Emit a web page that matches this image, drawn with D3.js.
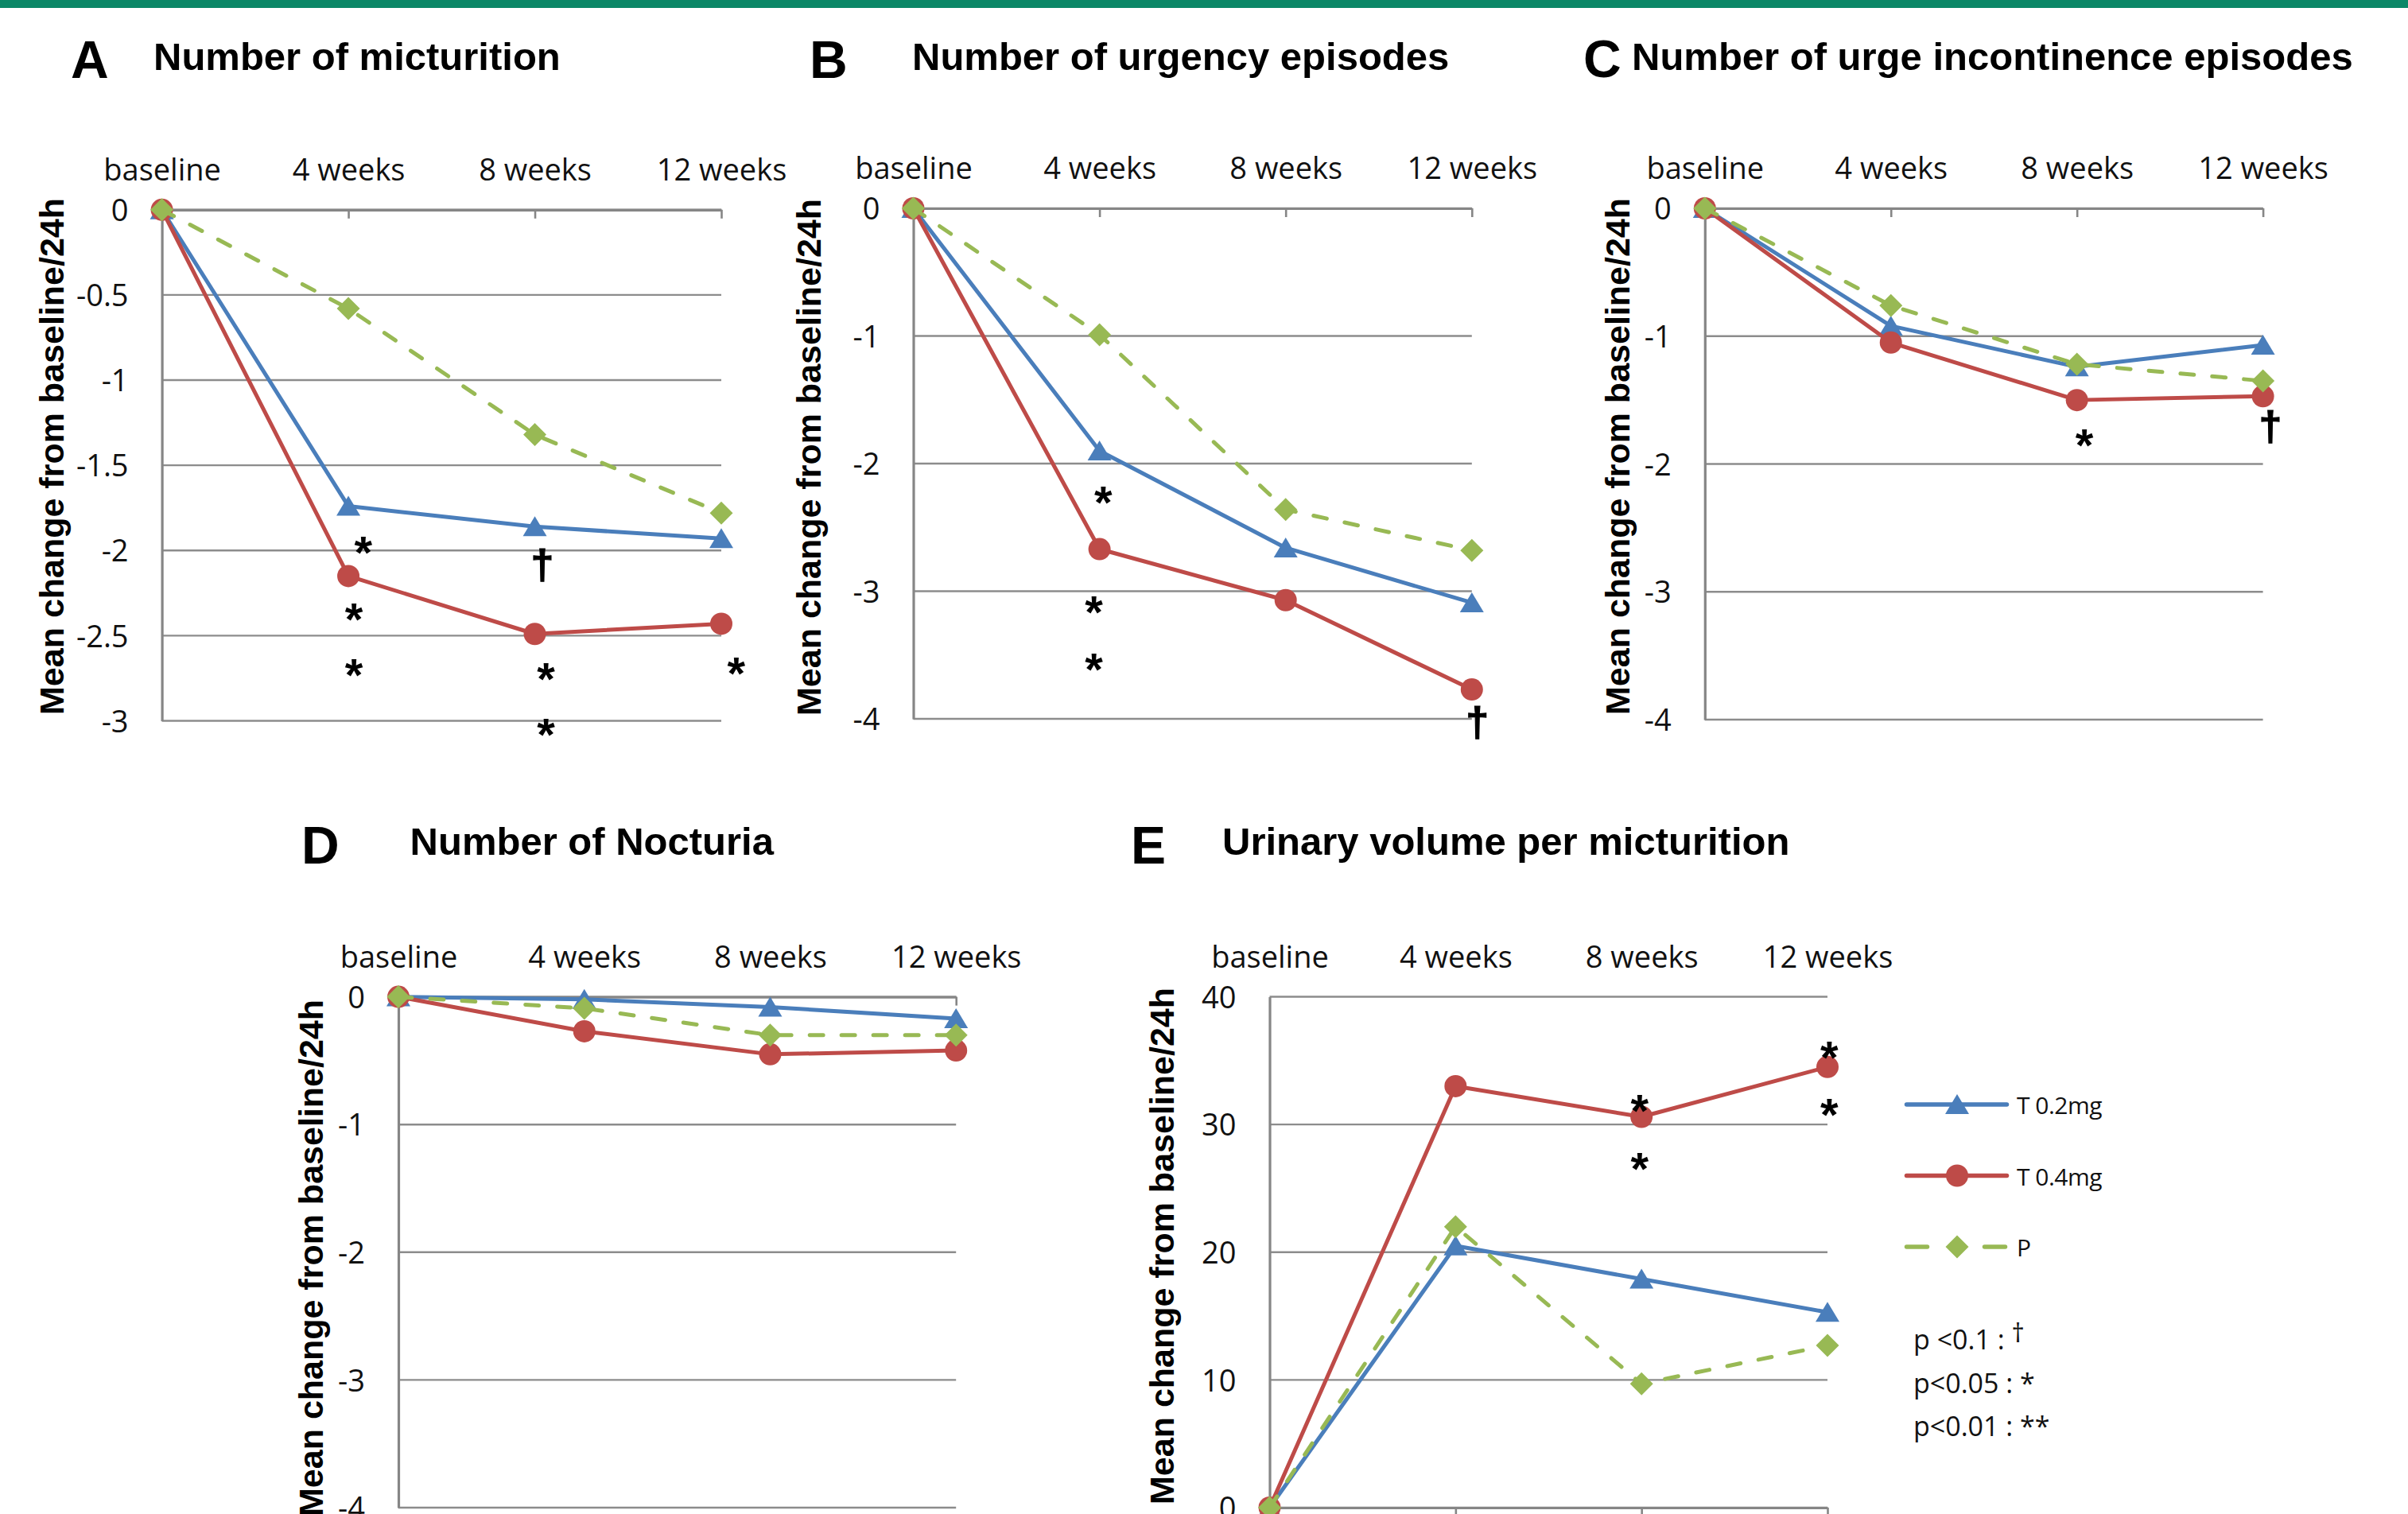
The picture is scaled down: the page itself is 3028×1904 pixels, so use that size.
<!DOCTYPE html>
<html><head><meta charset="utf-8">
<script src="https://cdn.jsdelivr.net/npm/d3@7"></script>
<style>
html,body{margin:0;padding:0;background:#fff;}
svg{display:block;}
</style></head><body>
<svg id="chart" width="3028" height="1904"></svg>
<script>
// ---------------- DATA ----------------
const categories = ["baseline", "4 weeks", "8 weeks", "12 weeks"];
const seriesNames = ["T 0.2mg", "T 0.4mg", "P"];
const panelLetters = ["A", "B", "C", "D", "E"];
const panelTitles = ["Number of micturition", "Number of urgency episodes",
  "Number of urge incontinence episodes", "Number of Nocturia", "Urinary volume per micturition"];
const yAxisTitle = "Mean change from baseline/24h";

// A: micturition
const micturitionT02 = [0, -1.74, -1.86, -1.93];
const micturitionT04 = [0, -2.15, -2.49, -2.43];
const micturitionP   = [0, -0.58, -1.32, -1.78];
// B: urgency episodes
const urgencyT02 = [0, -1.90, -2.66, -3.09];
const urgencyT04 = [0, -2.67, -3.07, -3.77];
const urgencyP   = [0, -0.99, -2.36, -2.68];
// C: urge incontinence episodes
const urgeIncT02 = [0, -0.92, -1.24, -1.07];
const urgeIncT04 = [0, -1.05, -1.50, -1.47];
const urgeIncP   = [0, -0.76, -1.22, -1.35];
// D: nocturia
const nocturiaT02 = [0, -0.02, -0.08, -0.17];
const nocturiaT04 = [0, -0.27, -0.45, -0.42];
const nocturiaP   = [0, -0.09, -0.30, -0.30];
// E: urinary volume per micturition
const volumeT02 = [0, 20.5, 17.9, 15.3];
const volumeT04 = [0, 33.0, 30.6, 34.5];
const volumeP   = [0, 22.0, 9.7, 12.7];

// y tick values
const yTicksA = [0, -0.5, -1, -1.5, -2, -2.5, -3];
const yTicksB = [0, -1, -2, -3, -4];
const yTicksC = [0, -1, -2, -3, -4];
const yTicksD = [0, -1, -2, -3, -4];
const yTicksE = [40, 30, 20, 10, 0];

// significance marks: [category position (index), value, symbol]
const marksA = [[1.08, -1.95, "*"], [1.03, -2.34, "*"], [1.03, -2.67, "*"], [2.04, -2.10, "\u2020"],
                [2.06, -2.69, "*"], [2.06, -3.02, "*"], [3.08, -2.66, "*"]];
const marksB = [[1.02, -2.22, "*"], [0.97, -3.08, "*"], [0.97, -3.53, "*"], [3.03, -4.05, "\u2020"]];
const marksC = [[2.04, -1.77, "*"], [3.04, -1.73, "\u2020"]];
const marksD = [];
const marksE = [[1.99, 31.9, "*"], [1.99, 27.4, "*"], [3.01, 36.1, "*"], [3.01, 31.6, "*"]];

const pLegendText = ["p <0.1 : ", "p<0.05 : ", "p<0.01 : "];
const pLegendSymbols = ["\u2020", "*", "**"];

// ---------------- STYLE / LAYOUT ----------------
const colors = ["#4A7EBB", "#BE4B48", "#98B954"];
const dashes = [null, null, "17,23"];
const markerTypes = ["triangle", "circle", "diamond"];

const layout = [
  {l: 203.6, r: 907, t: 263.8, b: 906.5, letterX: 89, letterBase: 98, titleX: 193, titleBase: 88, ytX: 64.4, ytY: 574},
  {l: 1148.5, r: 1850.8, t: 262, b: 904, letterX: 1018, letterBase: 98, titleX: 1147, titleBase: 88, ytX: 1017, ytY: 575},
  {l: 2143.8, r: 2845.6, t: 262, b: 905, letterX: 1991, letterBase: 97, titleX: 2052, titleBase: 88, ytX: 2033.5, ytY: 574},
  {l: 501, r: 1202.2, t: 1253.6, b: 1896, letterX: 379, letterBase: 1086, titleX: 515.6, titleBase: 1075, ytX: 391, ytY: 1582},
  {l: 1596.5, r: 2298, t: 1253.5, b: 1896, letterX: 1422, letterBase: 1086, titleX: 1537, titleBase: 1075, ytX: 1460.6, ytY: 1567}
];

const panelSeries = [
  [micturitionT02, micturitionT04, micturitionP],
  [urgencyT02, urgencyT04, urgencyP],
  [urgeIncT02, urgeIncT04, urgeIncP],
  [nocturiaT02, nocturiaT04, nocturiaP],
  [volumeT02, volumeT04, volumeP]
];
const panelTicks = [yTicksA, yTicksB, yTicksC, yTicksD, yTicksE];
const panelMarks = [marksA, marksB, marksC, marksD, marksE];

const tickFont = "'Open Sans', 'Liberation Sans', sans-serif";
const boldFont = "'Liberation Sans', Arial, sans-serif";

const svg = d3.select("#chart");
svg.append("rect").attr("x", 0).attr("y", 0).attr("width", 3028).attr("height", 10).attr("fill", "#0b8767");

function markerPath(type) {
  if (type === "triangle") return "M0,-13L15,12L-15,12Z";
  if (type === "diamond") return "M0,-14.5L14.5,0L0,14.5L-14.5,0Z";
  return d3.symbol(d3.symbolCircle, Math.PI * 14 * 14)();
}

const fmt = d => (d < 0 ? "-" : "") + Math.abs(d);
const markSize = s => s === "*" ? 58 : 52;
const markShift = s => s === "*" ? 0.58 : 0.27;

panelSeries.forEach((series, pi) => {
  const L = layout[pi];
  const g = svg.append("g");
  const x = d3.scalePoint().domain(categories).range([L.l, L.r]).padding(0);
  const xi = d3.scaleLinear().domain([0, categories.length - 1]).range([L.l, L.r]);
  const ticks = panelTicks[pi];
  const y = d3.scaleLinear().domain(d3.extent(ticks)).range([L.b, L.t]);

  // gridlines
  g.append("g").selectAll("line").data(ticks).join("line")
    .attr("x1", L.l).attr("x2", L.r)
    .attr("y1", d => y(d)).attr("y2", d => y(d))
    .attr("stroke", "#8c8c8c").attr("stroke-width", 2.4);

  // y axis
  const ya = g.append("g").attr("transform", `translate(${L.l},0)`)
    .call(d3.axisLeft(y).tickValues(ticks).tickFormat(fmt).tickSize(0).tickSizeOuter(0).tickPadding(42));
  ya.select(".domain").attr("stroke", "#868686").attr("stroke-width", 3.2);
  ya.selectAll("text").attr("font-family", tickFont).attr("font-size", 38).attr("fill", "#111").attr("dy", "0.36em");

  // x axis line at y=0 with ticks
  const xb = g.append("g").attr("transform", `translate(0,${y(0)})`)
    .call(d3.axisBottom(x).tickSize(11).tickSizeOuter(0).tickFormat(""));
  xb.select(".domain").attr("stroke", "#868686").attr("stroke-width", 3.2);
  xb.selectAll(".tick line").attr("stroke", "#868686").attr("stroke-width", 2.6);

  // category labels on top
  const xt = g.append("g").attr("transform", `translate(0,${L.t})`)
    .call(d3.axisTop(x).tickSize(0).tickPadding(37));
  xt.select(".domain").remove();
  xt.selectAll("text").attr("font-family", tickFont).attr("font-size", 38).attr("fill", "#111");

  // series
  const line = d3.line().x((d, i) => x(categories[i])).y(d => y(d));
  series.forEach((vals, si) => {
    const sg = g.append("g");
    const path = sg.append("path").datum(vals).attr("d", line)
      .attr("fill", "none").attr("stroke", colors[si]).attr("stroke-width", 5)
      .attr("stroke-linejoin", "round");
    if (dashes[si]) path.attr("stroke-dasharray", dashes[si]).attr("stroke-linecap", "round");
    sg.selectAll("path.m").data(vals).join("path").attr("class", "m")
      .attr("d", markerPath(markerTypes[si]))
      .attr("transform", (d, i) => `translate(${x(categories[i])},${y(d)})`)
      .attr("fill", colors[si]);
  });

  // significance marks
  g.append("g").selectAll("text").data(panelMarks[pi]).join("text")
    .attr("x", d => xi(d[0]))
    .attr("y", d => y(d[1]) + markShift(d[2]) * markSize(d[2]))
    .attr("text-anchor", "middle")
    .attr("font-family", boldFont).attr("font-weight", "bold")
    .attr("font-size", d => markSize(d[2]))
    .attr("fill", "#000")
    .attr("stroke", d => d[2] === "*" ? "none" : "#000")
    .attr("stroke-width", 1.2)
    .text(d => d[2]);

  // letter and title
  g.append("text").attr("x", L.letterX).attr("y", L.letterBase)
    .attr("font-family", boldFont).attr("font-weight", "bold").attr("font-size", 66).attr("fill", "#000")
    .text(panelLetters[pi]);
  g.append("text").attr("x", L.titleX).attr("y", L.titleBase)
    .attr("font-family", boldFont).attr("font-weight", "bold").attr("font-size", 49).attr("fill", "#000")
    .text(panelTitles[pi]);

  // y axis title
  const fsY = 43;
  g.append("text")
    .attr("transform", `translate(${L.ytX + 0.358 * fsY},${L.ytY}) rotate(-90)`)
    .attr("text-anchor", "middle")
    .attr("font-family", boldFont).attr("font-weight", "bold").attr("font-size", fsY).attr("fill", "#000")
    .text(yAxisTitle);
});

// ---------------- LEGEND ----------------
const legY = d3.scalePoint().domain(seriesNames).range([1389, 1568]);
const lg = svg.append("g");
seriesNames.forEach((name, si) => {
  const yy = legY(name);
  const ln = lg.append("line").attr("x1", 2397.5).attr("x2", 2523.5).attr("y1", yy).attr("y2", yy)
    .attr("stroke", colors[si]).attr("stroke-width", 5.5).attr("stroke-linecap", "round");
  if (dashes[si]) ln.attr("stroke-dasharray", "26,72");
  lg.append("path").attr("d", markerPath(markerTypes[si]))
    .attr("transform", `translate(2461,${yy})`).attr("fill", colors[si]);
  lg.append("text").attr("x", 2536).attr("y", yy + 12)
    .attr("font-family", tickFont).attr("font-size", 30).attr("fill", "#111")
    .attr("letter-spacing", -0.5)
    .text(name);
});

const pY = d3.scalePoint().domain(pLegendText).range([1697, 1806]);
pLegendText.forEach((t, i) => {
  const tx = lg.append("text").attr("x", 2406).attr("y", pY(t))
    .attr("font-family", tickFont).attr("font-size", 34).attr("fill", "#111");
  tx.append("tspan").text(t);
  if (pLegendSymbols[i] === "\u2020") {
    tx.append("tspan").attr("dy", -9).attr("font-size", 32).text(pLegendSymbols[i]);
  } else {
    tx.append("tspan").text(pLegendSymbols[i]);
  }
});
</script>
</body></html>
